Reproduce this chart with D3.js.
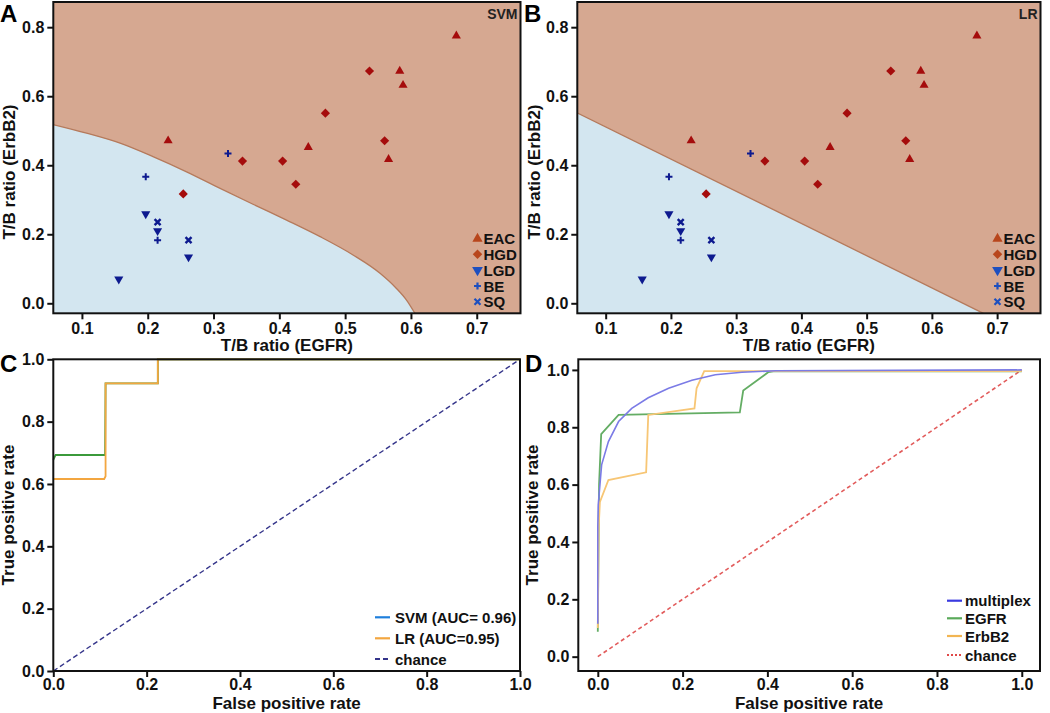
<!DOCTYPE html>
<html><head><meta charset="utf-8">
<script src="https://cdn.jsdelivr.net/npm/d3@7/dist/d3.min.js"></script>
<style>
html,body{margin:0;padding:0;background:#fff;}
svg text{font-family:"Liberation Sans",Arial,sans-serif;font-weight:bold;}
</style></head>
<body>
<svg id="chart" width="1050" height="713"></svg>
<script>
// ---------- DATA ----------
const classes = ["EAC","HGD","LGD","BE","SQ"];
const eacPts = [[0.231,0.471],[0.444,0.452],[0.566,0.417],[0.583,0.673],[0.588,0.632],[0.669,0.775]];
const hgdPts = [[0.537,0.673],[0.470,0.551],[0.560,0.471],[0.344,0.412],[0.405,0.412],[0.425,0.345],[0.254,0.317]];
const lgdPts = [[0.197,0.259],[0.215,0.210],[0.262,0.134],[0.156,0.070]];
const bePts  = [[0.322,0.434],[0.197,0.367],[0.215,0.183]];
const sqPts  = [[0.215,0.235],[0.262,0.183]];
const svmBoundary = [[0.056,0.518],[0.107,0.493],[0.158,0.464],[0.208,0.425],[0.259,0.381],[0.310,0.333],[0.360,0.287],[0.411,0.241],[0.462,0.193],[0.512,0.140],[0.553,0.087],[0.578,0.043],[0.593,0.010],[0.606,-0.029]];
const lrBoundary = [[0.056,0.552],[0.679,-0.029]];
const scatterXTicks = [0.1,0.2,0.3,0.4,0.5,0.6,0.7];
const scatterYTicks = [0.0,0.2,0.4,0.6,0.8];
const rocTicks = [0.0,0.2,0.4,0.6,0.8,1.0];

const rocSVM = [[0,0.677],[0.005,0.693],[0.111,0.693],[0.112,0.923],[0.224,0.923],[0.224,1.0],[1,1]];
const rocLR  = [[0,0.616],[0.109,0.616],[0.112,0.625],[0.112,0.923],[0.224,0.923],[0.224,1.0],[1,1]];
const rocChance = [[0,0],[1,1]];
const rocCLabels = ["SVM (AUC= 0.96)","LR (AUC=0.95)","chance"];

const rocMultiplex = [[0,0.115],[0.0,0.45],[0.001,0.529],[0.009,0.669],[0.025,0.75],[0.049,0.82],[0.080,0.866],[0.119,0.903],[0.167,0.936],[0.222,0.964],[0.277,0.983],[0.340,0.992],[0.42,0.997],[1,1]];
const rocEGFR = [[0,0.087],[0.003,0.6],[0.008,0.776],[0.049,0.843],[0.335,0.852],[0.343,0.928],[0.402,0.992],[0.414,0.995],[1,0.995]];
const rocErbB2 = [[0,0.1],[0.002,0.45],[0.005,0.54],[0.025,0.616],[0.114,0.643],[0.119,0.843],[0.228,0.866],[0.233,0.936],[0.251,0.996],[1,0.996]];
const rocDLabels = ["multiplex","EGFR","ErbB2","chance"];

// ---------- STYLE ----------
const colHigh = "#d6a891", colLow = "#d3e6f0", colEdge = "#b57a5c";
const colRedMk = "#a50c0c", colBlueMk = "#0d1a8f";
const colLegRed = "#b8461c", colLegBlue = "#1d4fbf";

const svg = d3.select("#chart");

function frame(g, x0, y0, x1, y1){
  g.append("rect").attr("x",x0).attr("y",y0).attr("width",x1-x0).attr("height",y1-y0)
   .attr("fill","none").attr("stroke","#111").attr("stroke-width",2);
}
function styleAxis(sel, fs){
  sel.select(".domain").remove();
  sel.selectAll(".tick line").attr("stroke","#111").attr("stroke-width",2);
  sel.selectAll(".tick text").attr("fill","#111").style("font-size",fs+"px").style("font-weight","bold")
     .style("font-family","'Liberation Sans',Arial,sans-serif");
}

const symDown = {draw(ctx,size){ const s=Math.sqrt(size/(Math.sqrt(3)/4)); const r=s/2, h=s*Math.sqrt(3)/2;
  ctx.moveTo(-r,-h/3); ctx.lineTo(r,-h/3); ctx.lineTo(0,2*h/3); ctx.closePath(); }};
const symUp = {draw(ctx,size){ const s=Math.sqrt(size/(Math.sqrt(3)/4)); const r=s/2, h=s*Math.sqrt(3)/2;
  ctx.moveTo(-r,h/3); ctx.lineTo(r,h/3); ctx.lineTo(0,-2*h/3); ctx.closePath(); }};
const symDiamond = {draw(ctx,size){ const r=Math.sqrt(size/2); ctx.moveTo(0,-r); ctx.lineTo(r,0); ctx.lineTo(0,r); ctx.lineTo(-r,0); ctx.closePath(); }};

function scatterPanel(id, x0, x1, boundary, curved, label, letter, letterX, yLabX){
  const y0 = 2, y1 = 313.3;
  const x = d3.scaleLinear().domain([0.0565,0.7665]).range([x0,x1]);
  const y = d3.scaleLinear().domain([-0.029,0.873]).range([y1,y0]);
  const g = svg.append("g").attr("id",id);
  const clipId = id+"clip";
  g.append("clipPath").attr("id",clipId).append("rect").attr("x",x0).attr("y",y0).attr("width",x1-x0).attr("height",y1-y0);
  const pg = g.append("g").attr("clip-path",`url(#${clipId})`);
  pg.append("rect").attr("x",x0).attr("y",y0).attr("width",x1-x0).attr("height",y1-y0).attr("fill",colHigh);
  const lineGen = curved ? d3.line().x(d=>x(d[0])).y(d=>y(d[1])).curve(d3.curveMonotoneX)
                         : d3.line().x(d=>x(d[0])).y(d=>y(d[1]));
  const last = boundary[boundary.length-1];
  const dPath = lineGen(boundary) + `L${x(last[0])},${y1+5}L${x0-5},${y1+5}L${x0-5},${y(boundary[0][1])}Z`;
  pg.append("path").attr("d",dPath).attr("fill",colLow);
  pg.append("path").attr("d",lineGen(boundary)).attr("fill","none").attr("stroke",colEdge).attr("stroke-width",1.3);

  const groups = [
    {pts:eacPts, sym:symUp, size:36, col:colRedMk, t:"sym"},
    {pts:hgdPts, sym:symDiamond, size:42, col:colRedMk, t:"sym"},
    {pts:lgdPts, sym:symDown, size:36, col:colBlueMk, t:"sym"},
    {pts:bePts, col:colBlueMk, t:"plus"},
    {pts:sqPts, col:colBlueMk, t:"x"}
  ];
  groups.forEach(gr=>{
    gr.pts.forEach(p=>{
      const cx=x(p[0]), cy=y(p[1]);
      if(gr.t==="plus"){
        pg.append("path").attr("d",`M${cx-3.5},${cy}H${cx+3.5}M${cx},${cy-3.5}V${cy+3.5}`).attr("stroke",gr.col).attr("stroke-width",2);
      } else if(gr.t==="x"){
        pg.append("path").attr("d",`M${cx-3},${cy-3}L${cx+3},${cy+3}M${cx-3},${cy+3}L${cx+3},${cy-3}`).attr("stroke",gr.col).attr("stroke-width",2.4);
      } else {
        pg.append("path").attr("d",d3.symbol().type(gr.sym).size(gr.size)()).attr("transform",`translate(${cx},${cy})`).attr("fill",gr.col);
      }
    });
  });

  frame(g,x0,y0,x1,y1);
  const ax = g.append("g").attr("transform",`translate(0,${y1})`)
    .call(d3.axisBottom(x).tickValues(scatterXTicks).tickSize(6).tickPadding(3).tickFormat(d3.format(".1f")));
  styleAxis(ax,16);
  const ay = g.append("g").attr("transform",`translate(${x0},0)`)
    .call(d3.axisLeft(y).tickValues(scatterYTicks).tickSize(6).tickPadding(3).tickFormat(d3.format(".1f")));
  styleAxis(ay,16);

  g.append("text").attr("x",(x0+x1)/2).attr("y",351).attr("text-anchor","middle").style("font-size","17px").attr("fill","#111").text("T/B ratio (EGFR)");
  g.append("text").attr("transform",`translate(${yLabX},172) rotate(-90)`).attr("text-anchor","middle").style("font-size","17px").attr("fill","#111").text("T/B ratio (ErbB2)");
  g.append("text").attr("x",x1-3).attr("y",19).attr("text-anchor","end").style("font-size","14px").attr("fill","#222").text(label);
  g.append("text").attr("x",letterX).attr("y",22).style("font-size","24px").attr("fill","#000").text(letter);

  // legend
  const lx = x1-43, rows=[238.7,254.3,270,286,301.7];
  const legSyms = [
    {t:"sym", sym:symUp, size:45, col:colLegRed},
    {t:"sym", sym:symDiamond, size:45, col:colLegRed},
    {t:"sym", sym:symDown, size:50, col:colLegBlue},
    {t:"plus", col:colLegBlue},
    {t:"x", col:colLegBlue}
  ];
  classes.forEach((c,i)=>{
    const s=legSyms[i], cy=rows[i];
    if(s.t==="sym") g.append("path").attr("d",d3.symbol().type(s.sym).size(s.size)()).attr("transform",`translate(${lx},${cy})`).attr("fill",s.col);
    else if(s.t==="plus") g.append("path").attr("d",`M${lx-3.5},${cy}H${lx+3.5}M${lx},${cy-3.5}V${cy+3.5}`).attr("stroke",s.col).attr("stroke-width",2.2);
    else g.append("path").attr("d",`M${lx-3},${cy-3}L${lx+3},${cy+3}M${lx-3},${cy+3}L${lx+3},${cy-3}`).attr("stroke",s.col).attr("stroke-width",2.2);
    g.append("text").attr("x",lx+6).attr("y",cy+5.5).style("font-size","15px").attr("fill","#111").text(c);
  });
}

scatterPanel("A",53.3,520.5,svmBoundary,true,"SVM","A",0,15);
scatterPanel("B",577.3,1040.5,lrBoundary,false,"LR","B",524,540);

function rocPanel(id, x0, x1, xdom, ydom, letter, letterX, yLabX){
  const y0 = 359.3, y1 = 671;
  const x = d3.scaleLinear().domain(xdom).range([x0,x1]);
  const y = d3.scaleLinear().domain(ydom).range([y1,y0]);
  const g = svg.append("g").attr("id",id);
  g.append("rect").attr("x",x0).attr("y",y0).attr("width",x1-x0).attr("height",y1-y0).attr("fill","#fff");
  const ax = g.append("g").attr("transform",`translate(0,${y1})`)
    .call(d3.axisBottom(x).tickValues(rocTicks).tickSize(6).tickPadding(2).tickFormat(d3.format(".1f")));
  styleAxis(ax,16);
  const ay = g.append("g").attr("transform",`translate(${x0},0)`)
    .call(d3.axisLeft(y).tickValues(rocTicks).tickSize(6).tickPadding(3).tickFormat(d3.format(".1f")));
  styleAxis(ay,16);
  g.append("text").attr("x",(x0+x1)/2).attr("y",709).attr("text-anchor","middle").style("font-size","17px").attr("fill","#111").text("False positive rate");
  g.append("text").attr("transform",`translate(${yLabX},515) rotate(-90)`).attr("text-anchor","middle").style("font-size","17px").attr("fill","#111").text("True positive rate");
  g.append("text").attr("x",letterX).attr("y",372).style("font-size","24px").attr("fill","#000").text(letter);
  return {g,x,y,x0,x1,y0,y1};
}

// Panel C
{
  const p = rocPanel("C",53.3,520,[0,1],[0,1],"C",0,14);
  const line = d3.line().x(d=>p.x(d[0])).y(d=>p.y(d[1]));
  p.g.append("path").attr("d",line(rocChance)).attr("fill","none").attr("stroke","#34348a").attr("stroke-width",1.4).attr("stroke-dasharray","5,3");
  p.g.append("path").attr("d",line(rocSVM)).attr("fill","none").attr("stroke","#3b9a3b").attr("stroke-width",1.8);
  p.g.append("path").attr("d",line(rocLR)).attr("fill","none").attr("stroke","#f3a640").attr("stroke-width",1.8);
  frame(p.g,p.x0,p.y0,p.x1,p.y1);
  const cols=["#1f7fdc","#f3a640","#34348a"], dash=[null,null,"5,3"], rows=[617.3,638.3,659];
  rocCLabels.forEach((t,i)=>{
    p.g.append("line").attr("x1",375).attr("x2",390).attr("y1",rows[i]).attr("y2",rows[i]).attr("stroke",cols[i]).attr("stroke-width",2.2).attr("stroke-dasharray",dash[i]);
    p.g.append("text").attr("x",395).attr("y",rows[i]+5.5).style("font-size","15px").attr("fill","#111").text(t);
  });
}
// Panel D
{
  const p = rocPanel("D",578.3,1040,[-0.046,1.043],[-0.05,1.037],"D",525,538);
  const line = d3.line().x(d=>p.x(d[0])).y(d=>p.y(d[1]));
  p.g.append("path").attr("d",line(rocChance)).attr("fill","none").attr("stroke","#e25c5c").attr("stroke-width",1.6).attr("stroke-dasharray","4,3");
  p.g.append("path").attr("d",line(rocEGFR)).attr("fill","none").attr("stroke","#64ad64").attr("stroke-width",1.8);
  p.g.append("path").attr("d",line(rocErbB2)).attr("fill","none").attr("stroke","#f7c675").attr("stroke-width",1.8);
  p.g.append("path").attr("d",line(rocMultiplex)).attr("fill","none").attr("stroke","#7b7be6").attr("stroke-width",1.6);
  frame(p.g,p.x0,p.y0,p.x1,p.y1);
  const cols=["#3a3ae0","#5aaa5a","#f2b552","#e04848"], dash=[null,null,null,"2,2"], rows=[600.7,618.3,636,655];
  rocDLabels.forEach((t,i)=>{
    p.g.append("line").attr("x1",947).attr("x2",962).attr("y1",rows[i]).attr("y2",rows[i]).attr("stroke",cols[i]).attr("stroke-width",2.2).attr("stroke-dasharray",dash[i]);
    p.g.append("text").attr("x",965).attr("y",rows[i]+5.5).style("font-size","15px").attr("fill","#111").text(t);
  });
}
</script>
</body></html>
